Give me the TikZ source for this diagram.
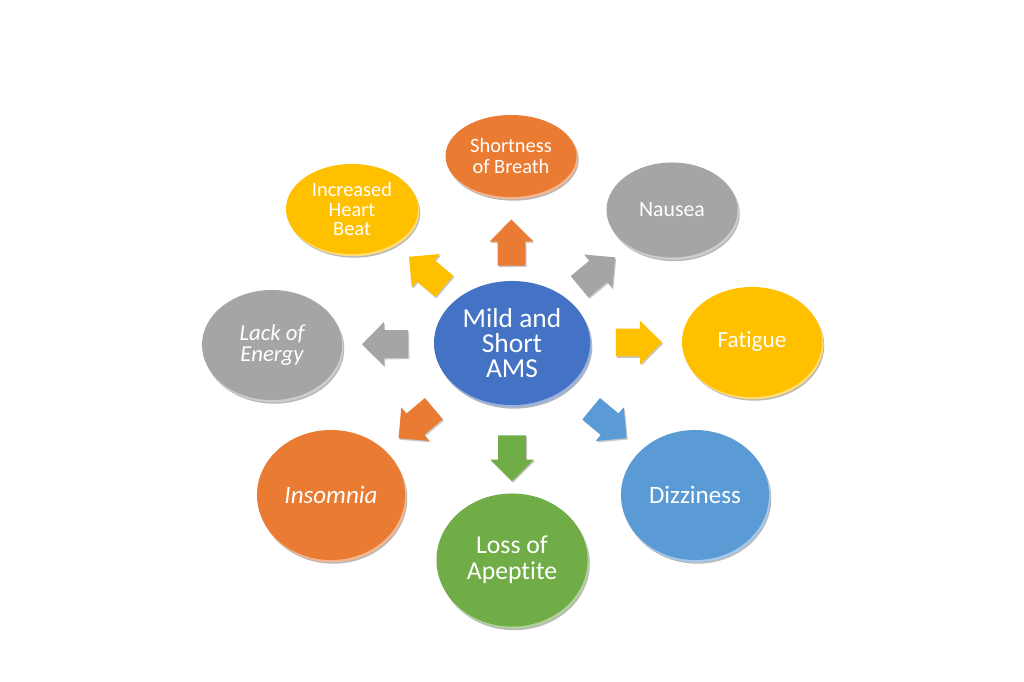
\documentclass[tikz,border=0pt]{standalone}
\usepackage{fontspec}
\setmainfont{Carlito}[Ligatures=NoCommon]
\usetikzlibrary{shapes.geometric,shapes.arrows,shadows}

\definecolor{amsBlue}{HTML}{4472C4}
\definecolor{symOrange}{HTML}{E97B32}
\definecolor{symGray}{HTML}{A5A5A5}
\definecolor{symGold}{HTML}{FFC000}
\definecolor{symBlue}{HTML}{5B9BD5}
\definecolor{symGreen}{HTML}{70AD47}

\tikzset{
  bubble/.style={ellipse, fill=#1, draw=none, text=white, align=center, inner sep=0,
    general shadow={fill=black!28, shadow xshift=1.6pt, shadow yshift=-2.6pt},
    general shadow={fill=#1!55!white, shadow xshift=1pt, shadow yshift=-1.6pt}},
  blockarrow/.style={single arrow, fill=#1, draw=none, inner xsep=0, inner ysep=0.34cm,
    single arrow head extend=0.2cm, minimum height=1.15cm,
    general shadow={fill=black!22, shadow xshift=0.8pt, shadow yshift=-1pt}},
  fs/.style 2 args={font=\fontsize{#1}{#2}\selectfont},
  fsi/.style 2 args={font=\fontsize{#1}{#2}\selectfont\itshape}
}

\begin{document}
\begin{tikzpicture}[x=0.025cm,y=-0.025cm]
    \fill[white] (0,0) rectangle (1024,682);
    \useasboundingbox (0,0) rectangle (1024,682);
    % hub
    \node[bubble=amsBlue, minimum width=3.9cm, minimum height=3.1cm, fs={19.5}{18}] (ams) at (512,343) {Mild and\\Short\\AMS};
    % symptoms, clockwise from the top
    \node[bubble=symOrange, minimum width=3.275cm, minimum height=2.05cm, fs={14.5}{14.5}] (breath) at (511,156) {Shortness\\of Breath};
    \node[bubble=symGray, minimum width=3.275cm, minimum height=2.375cm, fs={15.5}{14}] (nausea) at (672,210) {Nausea};
    \node[bubble=symGold, minimum width=3.5cm, minimum height=2.75cm, fs={16.5}{15}] (fatigue) at (752,342) {Fatigue};
    \node[bubble=symBlue, minimum width=3.7cm, minimum height=3.25cm, fs={17.8}{16}] (dizzy) at (695,495) {Dizziness};
    \node[bubble=symGreen, minimum width=3.775cm, minimum height=3.325cm, fs={18.3}{18.5}] (appetite) at (512,560) {Loss of\\Apeptite};
    \node[bubble=symOrange, minimum width=3.7cm, minimum height=3.25cm, fsi={17.8}{16}] (insomnia) at (331,495) {Insomnia};
    \node[bubble=symGray, minimum width=3.5cm, minimum height=2.75cm, fsi={16.2}{15.5}] (energy) at (272,345) {Lack of\\Energy};
    \node[bubble=symGold, minimum width=3.3cm, minimum height=2.25cm, fs={14.5}{14}] (heart) at (352,209) {Increased\\Heart\\Beat};
    % block arrows half way out
    \foreach \tgt/\col in {breath/symOrange, nausea/symGray, fatigue/symGold, dizzy/symBlue,
                           appetite/symGreen, insomnia/symOrange, energy/symGray, heart/symGold}
        \path (ams.center) -- (\tgt.center)
            node[pos=0.5, sloped, allow upside down, blockarrow=\col] (ar\tgt) {};
\end{tikzpicture}
\end{document}
